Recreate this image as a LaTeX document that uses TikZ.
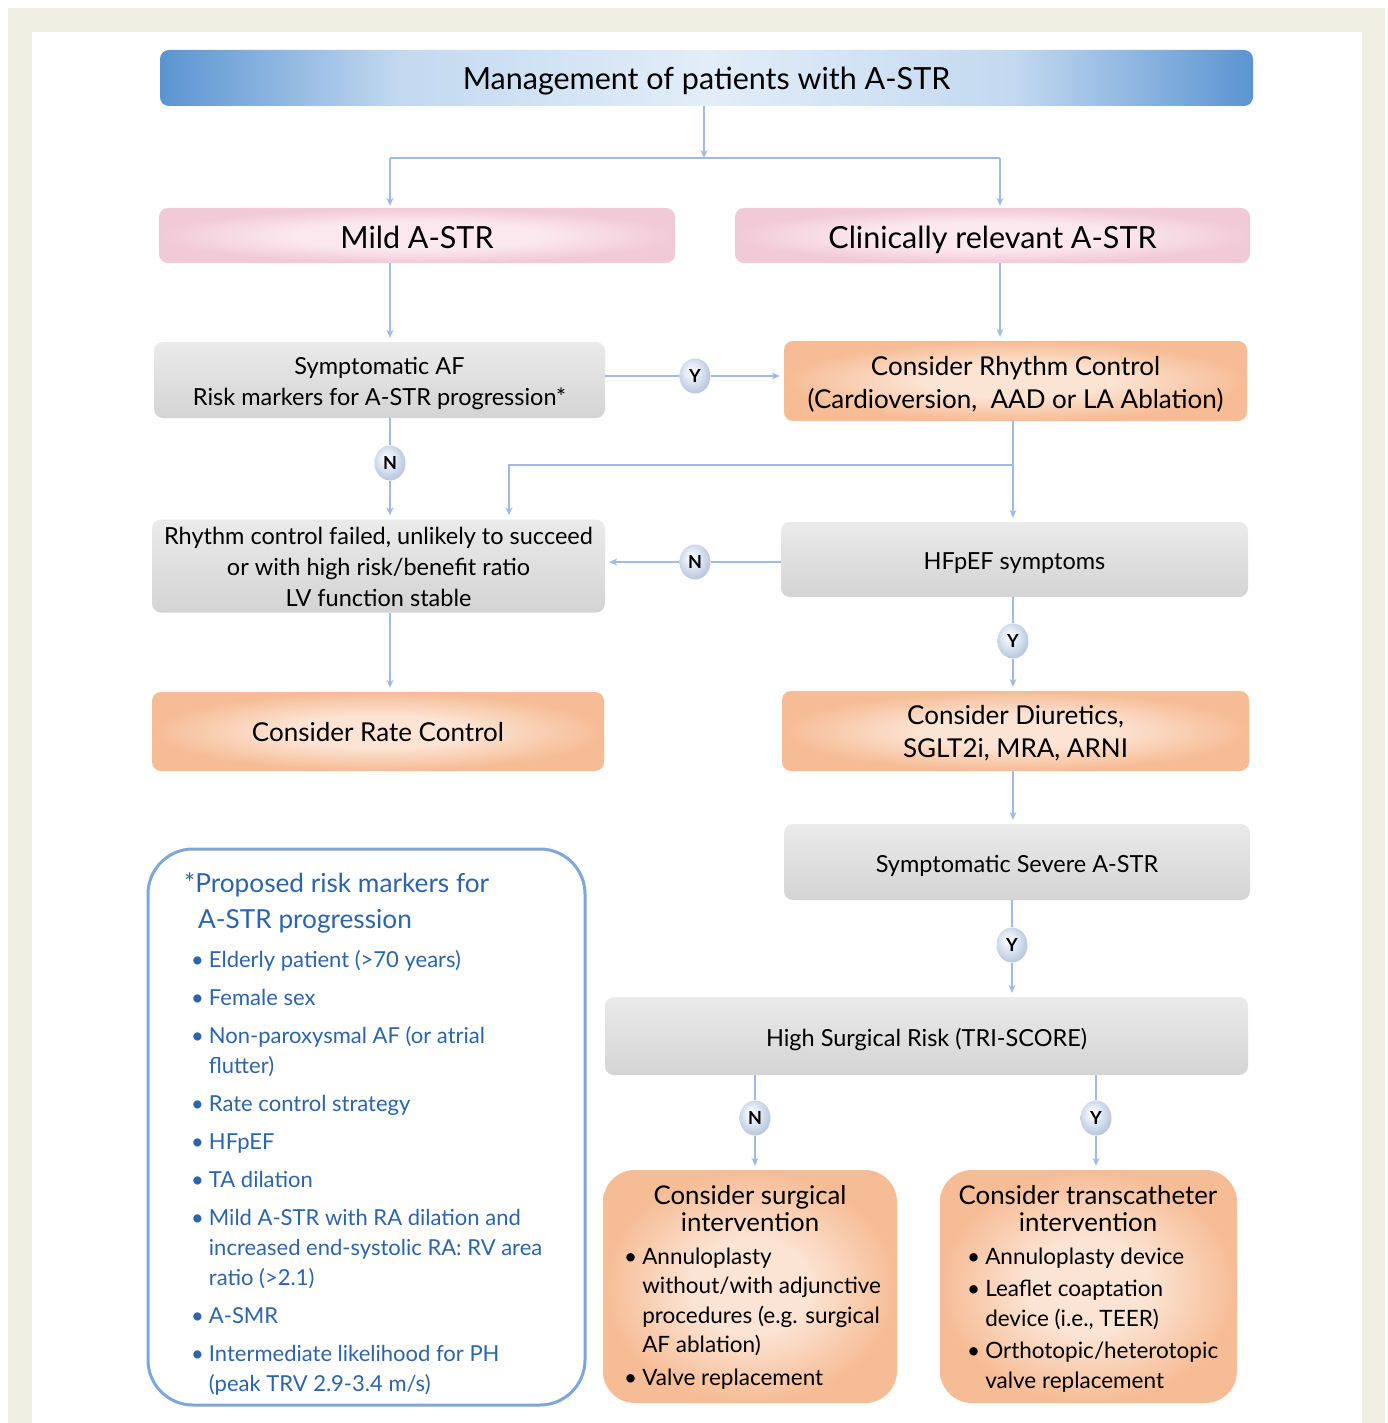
\documentclass[tikz,border=0pt]{standalone}
\usepackage{fontspec}
\setmainfont{Lato}
\usetikzlibrary{shapes.geometric,arrows.meta,shadings}
\definecolor{beige}{HTML}{EFEFE4}
\definecolor{linec}{HTML}{9FBBE3}
\definecolor{riskb}{HTML}{7DA7D9}
\definecolor{riskt}{HTML}{2B64AC}
\definecolor{orC}{HTML}{FCE4D4}
\definecolor{orE}{HTML}{F6BC95}
\definecolor{pkC}{HTML}{FBE9EF}
\definecolor{pkE}{HTML}{F2CAD7}
\definecolor{tbE}{HTML}{5A94D1}
\definecolor{tbM}{HTML}{C3D9F0}
\definecolor{tbC}{HTML}{E2EDF8}
\definecolor{ballL}{HTML}{E2EAF5}
\definecolor{ballE}{HTML}{B4C3DA}
\pgfdeclareradialshading{orglow}{\pgfpoint{0bp}{0bp}}{color(0bp)=(orC); color(10bp)=(orC); color(25bp)=(orE); color(50bp)=(orE)}
\pgfdeclareradialshading{pkglow}{\pgfpoint{0bp}{0bp}}{color(0bp)=(pkC); color(12bp)=(pkC); color(25bp)=(pkE); color(50bp)=(pkE)}
\pgfdeclareradialshading{ballglow}{\pgfpoint{-7bp}{8bp}}{color(0bp)=(white); color(12bp)=(ballL); color(30bp)=(ballE); color(50bp)=(ballE)}
\pgfdeclarehorizontalshading{titleshade}{100bp}{color(0bp)=(tbE); color(25bp)=(tbE); color(36bp)=(tbM); color(50bp)=(tbC); color(64bp)=(tbM); color(75bp)=(tbE); color(100bp)=(tbE)}
% lower a (multi-line) text visually, keeping its reported size
\newcommand{\dn}[2][3pt]{\raisebox{-#1}[\height][\depth]{\begin{tabular}{@{}c@{}}#2\end{tabular}}}
\tikzset{
  box/.style={rectangle, rounded corners=9pt, inner sep=0pt, align=center},
  graybox/.style={box, top color=black!8, middle color=black!4, bottom color=black!17, font=\fontsize{23.5}{31}\selectfont},
  orbox/.style={box, shading=orglow, font=\fontsize{26}{33}\selectfont},
  pkbox/.style={box, shading=pkglow, font=\fontsize{30.5}{32}\selectfont},
  conn/.style={draw=linec, line width=1.8pt},
  arr/.style={conn, -{Stealth[length=8pt,width=7pt]}, shorten >=4pt},
  yn/.style={ellipse, minimum width=31pt, minimum height=35pt, inner sep=0pt, shading=ballglow, font=\bfseries\fontsize{18}{18}\selectfont},
}
\begin{document}
\begin{tikzpicture}[x=1pt,y=-1pt]
\useasboundingbox (0,0) rectangle (1387,1423);
\fill[beige] (8,8) rectangle (1385,1423);
\fill[white] (32,32) rectangle (1362,1423);

% boxes
\node[box, shading=titleshade, minimum width=1093pt, minimum height=56pt, font=\fontsize{30.5}{32}\selectfont] (title) at (706.5,78) {\dn[5pt]{Management of patients with A-STR}};
\node[pkbox, minimum width=516pt, minimum height=55pt] (mild) at (417,235.5) {\dn[7pt]{Mild A-STR}};
\node[pkbox, minimum width=515pt, minimum height=55pt] (clin) at (992.5,235.5) {\dn[7pt]{Clinically relevant A-STR}};
\node[graybox, minimum width=451pt, minimum height=76pt] (sym) at (379.5,380) {\dn[4pt]{Symptomatic AF\\Risk markers for A-STR progression*}};
\node[orbox, minimum width=463pt, minimum height=80pt] (rhythm) at (1015.5,381) {\dn[4pt]{Consider Rhythm Control\\(Cardioversion,\ \ AAD or LA Ablation)}};
\node[graybox, minimum width=453pt, minimum height=92pt] (failed) at (378.5,566) {\dn[3pt]{Rhythm control failed, unlikely to succeed\\or with high risk/benefit ratio\\LV function stable}};
\node[graybox, minimum width=467pt, minimum height=75pt] (hf) at (1014.5,559.5) {\dn[4pt]{HFpEF symptoms}};
\node[orbox, minimum width=452pt, minimum height=79pt] (rate) at (378,731.5) {\dn[3pt]{Consider Rate Control}};
\node[orbox, minimum width=467pt, minimum height=80pt] (diur) at (1015.5,731) {\dn[3.5pt]{Consider Diuretics,\\SGLT2i, MRA, ARNI}};
\node[graybox, minimum width=466pt, minimum height=76pt] (severe) at (1017,862) {\dn[4pt]{Symptomatic Severe A-STR}};
\node[graybox, minimum width=643pt, minimum height=78pt] (high) at (926.5,1036) {\dn[4pt]{High Surgical Risk (TRI-SCORE)}};
\node[orbox, rounded corners=32pt, minimum width=294pt, minimum height=233pt] (surg) at (750,1286.5) {};
\node[orbox, rounded corners=32pt, minimum width=297pt, minimum height=233pt] (trans) at (1088.5,1286.5) {};
\node[box, draw=riskb, line width=3pt, fill=white, rounded corners=45pt, minimum width=437pt, minimum height=556pt] (risk) at (366.5,1127) {};

% texts of the lower boxes
\node[anchor=base, align=center, font=\fontsize{25.8}{27}\selectfont] (surgt) at (750,1231) {Consider surgical\\intervention};
\node[anchor=base west, inner sep=0pt, font=\fontsize{22.5}{29.5}\selectfont] (surgl) at (624,1264)
  {\begin{tabular}[t]{@{}l@{\hspace{5pt}}l@{}}
  \textbullet & Annuloplasty\\
  & without/with adjunctive\\
  & procedures (e.g. surgical\\
  & AF ablation)\\[3pt]
  \textbullet & Valve replacement
  \end{tabular}};
\node[anchor=base, align=center, font=\fontsize{25.8}{27}\selectfont] (transt) at (1088,1231) {Consider transcatheter\\intervention};
\node[anchor=base west, inner sep=0pt, font=\fontsize{22.5}{29.5}\selectfont] (transl) at (967,1264)
  {\begin{tabular}[t]{@{}l@{\hspace{5pt}}l@{}}
  \textbullet & Annuloplasty device\\[3pt]
  \textbullet & Leaflet coaptation\\
  & device (i.e., TEER)\\[3pt]
  \textbullet & Orthotopic/heterotopic\\
  & valve replacement
  \end{tabular}};

% risk markers
\node[anchor=base west, inner sep=0pt, text=riskt, font=\fontsize{26.2}{36}\selectfont] (riskt) at (184,892)
  {\begin{tabular}[t]{@{}l@{}}*Proposed risk markers for\\\hspace{14pt}A-STR progression\end{tabular}};
\node[anchor=base west, inner sep=0pt, text=riskt, font=\fontsize{22}{30}\selectfont] (riskl) at (191,967)
  {\begin{tabular}[t]{@{}l@{\hspace{5pt}}l@{}}
  \textbullet & Elderly patient (>70 years)\\[8pt]
  \textbullet & Female sex\\[8pt]
  \textbullet & Non-paroxysmal AF (or atrial\\
  & flutter)\\[8pt]
  \textbullet & Rate control strategy\\[8pt]
  \textbullet & HFpEF\\[8pt]
  \textbullet & TA dilation\\[8pt]
  \textbullet & Mild A-STR with RA dilation and\\
  & increased end-systolic RA: RV area\\
  & ratio (>2.1)\\[8pt]
  \textbullet & A-SMR\\[8pt]
  \textbullet & Intermediate likelihood for PH\\
  & (peak TRV 2.9-3.4 m/s)
  \end{tabular}};

% decision circles
\node[yn] (y1) at (695,376) {Y};
\node[yn] (n1) at (390,463) {N};
\node[yn] (n2) at (695,562) {N};
\node[yn] (y2) at (1013,641) {Y};
\node[yn] (y3) at (1012,945) {Y};
\node[yn] (n3) at (755,1118) {N};
\node[yn] (y4) at (1096,1118) {Y};

% junctions
\coordinate (split) at (704,158);
\coordinate (jl) at (390,158);
\coordinate (jr) at (1000,158);
\coordinate (jb) at (1013,465);
\coordinate (jc) at (509,465);

% connectors
\draw[arr, shorten >=0pt] (title.south -| split) -- (split);
\draw[conn] (jl) -- (jr);
\draw[arr, shorten >=2pt] (jl) -- (jl |- mild.north);
\draw[arr, shorten >=2pt] (jr) -- (jr |- clin.north);
\draw[arr] (mild.south -| jl) -- (jl |- sym.north);
\draw[arr] (clin.south -| jr) -- (jr |- rhythm.north);
\draw[conn] (sym.east |- y1) -- (y1);
\draw[arr] (y1) -- (rhythm.west |- y1);
\draw[conn] (sym.south -| n1) -- (n1);
\draw[arr] (n1) -- (failed.north -| n1);
\draw[conn] (rhythm.south -| jb) -- (jb);
\draw[arr] (jb) -- (hf.north -| jb);
\draw[arr] (jb) -- (jc) -- (failed.north -| jc);
\draw[conn] (hf.west |- n2) -- (n2);
\draw[arr] (n2) -- (failed.east |- n2);
\draw[arr] (failed.south -| n1) -- (rate.north -| n1);
\draw[conn] (hf.south -| y2) -- (y2);
\draw[arr] (y2) -- (diur.north -| y2);
\draw[arr] (diur.south -| y2) -- (severe.north -| y2);
\draw[conn] (severe.south -| y3) -- (y3);
\draw[arr] (y3) -- (high.north -| y3);
\draw[conn] (high.south -| n3) -- (n3);
\draw[arr] (n3) -- (surg.north -| n3);
\draw[conn] (high.south -| y4) -- (y4);
\draw[arr] (y4) -- (trans.north -| y4);
\end{tikzpicture}
\end{document}
